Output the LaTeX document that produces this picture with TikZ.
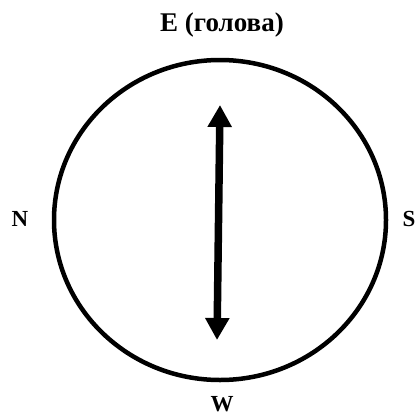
\documentclass[tikz,border=0pt]{standalone}
\usepackage{fontspec}
\setmainfont{Liberation Serif}
\usepackage{tikz}
\usetikzlibrary{arrows.meta}

\begin{document}
\begin{tikzpicture}[x=1pt, y=1pt,
    etiquette/.style={font=\fontsize{23}{23}\selectfont\bfseries, anchor=base, inner sep=0pt},
    fleche/.style={line width=7.5pt, {Triangle[width=23pt,length=22pt]}-{Triangle[width=23pt,length=22pt]}}]
                % Cadre
                \useasboundingbox (0,0) rectangle (419,416);
                
                % Cercle
                \coordinate (centre) at (220,196);
                \draw[line width=4.5pt] (centre) ellipse [x radius=166, y radius=160];
                
                % Points cardinaux
                \node[etiquette, font=\fontsize{27}{27}\selectfont\bfseries] (est) at (222,384) {E (голова)};
                \node[etiquette] (nord) at (20,190) {N};
                \node[etiquette] (sud) at (409,190) {S};
                \node[etiquette] (ouest) at (222,5) {W};
                
                % Fleche double
                \coordinate (haut) at (220,311);
                \coordinate (bas) at (217,76);
                \draw[fleche] (bas) -- (haut);
            \end{tikzpicture}
\end{document}
